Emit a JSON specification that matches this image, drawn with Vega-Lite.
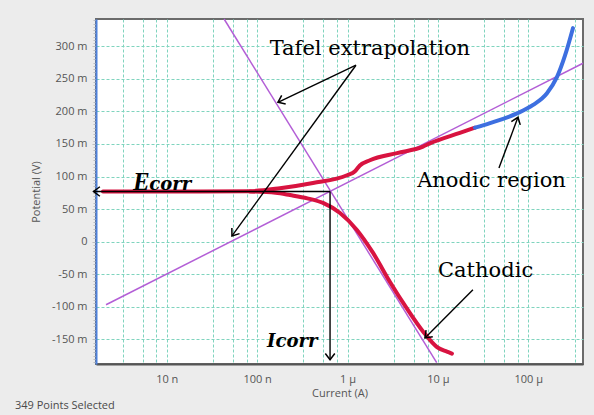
{
  "$schema": "https://vega.github.io/schema/vega-lite/v6.json",
  "width": 487,
  "height": 345,
  "autosize": {"type": "none"},
  "padding": {"left": 96, "top": 19, "right": 11, "bottom": 51},
  "background": "#ececec",
  "config": {
    "view": {"fill": "white", "stroke": "#6b6b6b", "strokeWidth": 2},
    "font": "Open Sans"
  },
  "title": {
    "text": "349 Points Selected",
    "orient": "bottom",
    "anchor": "start",
    "frame": "group",
    "dx": -81,
    "offset": 2,
    "font": "Open Sans",
    "fontSize": 11,
    "fontWeight": "normal",
    "color": "#4a4a4a"
  },
  "datasets": {
    "curves": [
      {"I": 1.97e-9, "V": 77, "branch": "anodic"},
      {"I": 6.5e-9, "V": 77, "branch": "anodic"},
      {"I": 2.33e-8, "V": 77, "branch": "anodic"},
      {"I": 8.3e-8, "V": 77.5, "branch": "anodic"},
      {"I": 1.79e-7, "V": 82, "branch": "anodic"},
      {"I": 4.15e-7, "V": 90, "branch": "anodic"},
      {"I": 9.9e-7, "V": 102, "branch": "anodic"},
      {"I": 1.21e-6, "V": 108, "branch": "anodic"},
      {"I": 1.37e-6, "V": 117, "branch": "anodic"},
      {"I": 1.77e-6, "V": 125, "branch": "anodic"},
      {"I": 3.53e-6, "V": 136, "branch": "anodic"},
      {"I": 6.84e-6, "V": 146, "branch": "anodic"},
      {"I": 8.17e-6, "V": 151, "branch": "anodic"},
      {"I": 1.75e-5, "V": 167, "branch": "anodic"},
      {"I": 2.57e-5, "V": 175, "branch": "anodic"},
      {"I": 2.57e-5, "V": 175, "branch": "transpassive"},
      {"I": 3.77e-5, "V": 182, "branch": "transpassive"},
      {"I": 7.5e-5, "V": 197, "branch": "transpassive"},
      {"I": 1.13e-4, "V": 210, "branch": "transpassive"},
      {"I": 1.61e-4, "V": 228, "branch": "transpassive"},
      {"I": 2.08e-4, "V": 253, "branch": "transpassive"},
      {"I": 2.55e-4, "V": 286, "branch": "transpassive"},
      {"I": 3.12e-4, "V": 328, "branch": "transpassive"},
      {"I": 8.3e-8, "V": 77, "branch": "cathodic"},
      {"I": 1.6e-7, "V": 75, "branch": "cathodic"},
      {"I": 2.31e-7, "V": 71.5, "branch": "cathodic"},
      {"I": 3.6e-7, "V": 66.5, "branch": "cathodic"},
      {"I": 5.36e-7, "V": 59.4, "branch": "cathodic"},
      {"I": 8.26e-7, "V": 44, "branch": "cathodic"},
      {"I": 1.27e-6, "V": 18, "branch": "cathodic"},
      {"I": 1.91e-6, "V": -17, "branch": "cathodic"},
      {"I": 2.95e-6, "V": -62, "branch": "cathodic"},
      {"I": 4.55e-6, "V": -103, "branch": "cathodic"},
      {"I": 6.84e-6, "V": -138, "branch": "cathodic"},
      {"I": 9.77e-6, "V": -162, "branch": "cathodic"},
      {"I": 1.26e-5, "V": -169, "branch": "cathodic"},
      {"I": 1.43e-5, "V": -172, "branch": "cathodic"}
    ],
    "tafel": [
      {"I": 2.13e-9, "V": -97, "line": "anodic"},
      {"I": 4.03e-4, "V": 274, "line": "anodic"},
      {"I": 4.31e-8, "V": 342, "line": "cathodic"},
      {"I": 9.7e-6, "V": -186, "line": "cathodic"}
    ],
    "arrows": [
      {"arrow": "ecorr", "I": 6.41e-7, "V": 77, "I2": 1.55e-9, "V2": 77},
      {"arrow": "icorr", "I": 6.41e-7, "V": 77, "I2": 6.41e-7, "V2": -181.5},
      {"arrow": "tafel1", "I": 1.24e-6, "V": 271, "I2": 1.7e-7, "V2": 214},
      {"arrow": "tafel2", "I": 1.24e-6, "V": 271, "I2": 5.27e-8, "V2": 8.7},
      {"arrow": "anodic", "I": 4.74e-5, "V": 113, "I2": 7.69e-5, "V2": 191},
      {"arrow": "cathodic", "I": 2.44e-5, "V": -74, "I2": 7.19e-6, "V2": -148}
    ],
    "labels": [
      {"label": "Tafel extrapolation", "I": 1.77e-6, "V": 287},
      {"label": "Anodic region", "I": 3.92e-5, "V": 84},
      {"label": "Cathodic", "I": 3.37e-5, "V": -54}
    ],
    "italic": [
      {"label": "Icorr", "I": 1.29e-7, "V": -161.5, "part": "small"},
      {"label": "corr", "I": 6.4e-9, "V": 80, "part": "small"},
      {"label": "E", "I": 4.24e-9, "V": 80, "part": "big"}
    ]
  },
  "resolve": {"axis": {"x": "independent", "y": "independent"}},
  "layer": [
    {
      "data": {"name": "tafel"},
      "mark": {"type": "line", "color": "#b35ed6", "strokeWidth": 1.5},
      "encoding": {
        "x": {
          "field": "I", "type": "quantitative",
          "scale": {"type": "log", "domain": [1.65e-9, 4.03e-4], "nice": false},
          "axis": {
            "orient": "bottom", "title": null, "labels": false, "ticks": false, "domain": false,
            "grid": true, "gridColor": "#7fd4be", "gridDash": [3, 2], "gridWidth": 1,
            "values": [3.25e-9, 5.4e-9, 7.7e-9, 1e-8, 3.25e-8, 5.4e-8, 7.7e-8, 1e-7, 3.25e-7, 5.4e-7, 7.7e-7, 1e-6, 3.25e-6, 5.4e-6, 7.7e-6, 1e-5, 3.25e-5, 5.4e-5, 7.7e-5, 1e-4, 3.25e-4]
          }
        },
        "y": {
          "field": "V", "type": "quantitative",
          "scale": {"domain": [-188, 342], "nice": false, "zero": false},
          "axis": {
            "orient": "left", "title": null, "labels": false, "grid": false, "domain": false,
            "ticks": true, "tickSize": 3, "tickColor": "#bdbdbd",
            "values": [-185, -180, -175, -170, -165, -160, -155, -145, -140, -135, -130, -125, -120, -115, -110, -105, -95, -90, -85, -80, -75, -70, -65, -60, -55, -45, -40, -35, -30, -25, -20, -15, -10, -5, 5, 10, 15, 20, 25, 30, 35, 40, 45, 55, 60, 65, 70, 75, 80, 85, 90, 95, 105, 110, 115, 120, 125, 130, 135, 140, 145, 155, 160, 165, 170, 175, 180, 185, 190, 195, 205, 210, 215, 220, 225, 230, 235, 240, 245, 255, 260, 265, 270, 275, 280, 285, 290, 295, 305, 310, 315, 320, 325, 330, 335, 340]
          }
        },
        "detail": {"field": "line", "type": "nominal"}
      }
    },
    {
      "data": {"name": "curves"},
      "mark": {"type": "line", "strokeWidth": 4, "strokeCap": "round", "strokeJoin": "round", "interpolate": "monotone"},
      "encoding": {
        "x": {
          "field": "I", "type": "quantitative",
          "axis": {
            "orient": "bottom", "title": "Current (A)", "titleFont": "Open Sans", "titleFontSize": 11,
            "titleFontWeight": "normal", "titleColor": "#555", "titlePadding": 3,
            "values": [1e-8, 1e-7, 1e-6, 1e-5, 1e-4],
            "labelExpr": "datum.value < 5e-8 ? '10 n' : datum.value < 5e-7 ? '100 n' : datum.value < 5e-6 ? '1 µ' : datum.value < 5e-5 ? '10 µ' : '100 µ'",
            "labelFont": "Open Sans", "labelFontSize": 11, "labelColor": "#555", "labelPadding": 9,
            "ticks": false, "grid": false, "domain": true, "domainColor": "#555", "domainWidth": 2
          }
        },
        "y": {
          "field": "V", "type": "quantitative",
          "axis": {
            "orient": "left", "title": "Potential (V)", "titleFont": "Open Sans", "titleFontSize": 11,
            "titleFontWeight": "normal", "titleColor": "#555", "titlePadding": 10,
            "values": [-150, -100, -50, 0, 50, 100, 150, 200, 250, 300],
            "labelExpr": "datum.value == 0 ? '0' : datum.value + ' m'",
            "labelFont": "Open Sans", "labelFontSize": 11, "labelColor": "#555", "labelPadding": 5,
            "ticks": true, "tickSize": 4, "tickColor": "#bdbdbd",
            "grid": true, "gridColor": "#7fd4be", "gridDash": [3, 2], "gridWidth": 1,
            "domain": true, "domainColor": "#4f82dc", "domainWidth": 2
          }
        },
        "color": {
          "field": "branch", "type": "nominal",
          "scale": {"domain": ["anodic", "cathodic", "transpassive"], "range": ["#d81340", "#d81340", "#3d6fe0"]},
          "legend": null
        }
      }
    },
    {
      "data": {"name": "arrows"},
      "mark": {"type": "rule", "color": "black", "strokeWidth": 1.4},
      "encoding": {
        "x": {"field": "I", "type": "quantitative", "axis": null},
        "y": {"field": "V", "type": "quantitative", "axis": null},
        "x2": {"field": "I2"},
        "y2": {"field": "V2"}
      }
    },
    {
      "data": {"name": "arrows"},
      "transform": [{"filter": "datum.arrow == 'ecorr'"}],
      "mark": {"type": "point", "shape": "M-1,-0.75L0,0L-1,0.75", "angle": 180, "filled": false, "color": "black", "strokeWidth": 1.5, "size": 160, "opacity": 1},
      "encoding": {
        "x": {"field": "I2", "type": "quantitative", "axis": null},
        "y": {"field": "V2", "type": "quantitative", "axis": null}
      }
    },
    {
      "data": {"name": "arrows"},
      "transform": [{"filter": "datum.arrow == 'icorr'"}],
      "mark": {"type": "point", "shape": "M-1,-0.75L0,0L-1,0.75", "angle": 90, "filled": false, "color": "black", "strokeWidth": 1.5, "size": 160, "opacity": 1},
      "encoding": {
        "x": {"field": "I2", "type": "quantitative", "axis": null},
        "y": {"field": "V2", "type": "quantitative", "axis": null}
      }
    },
    {
      "data": {"name": "arrows"},
      "transform": [{"filter": "datum.arrow == 'tafel1'"}],
      "mark": {"type": "point", "shape": "M-1,-0.75L0,0L-1,0.75", "angle": 155, "filled": false, "color": "black", "strokeWidth": 1.5, "size": 160, "opacity": 1},
      "encoding": {
        "x": {"field": "I2", "type": "quantitative", "axis": null},
        "y": {"field": "V2", "type": "quantitative", "axis": null}
      }
    },
    {
      "data": {"name": "arrows"},
      "transform": [{"filter": "datum.arrow == 'tafel2'"}],
      "mark": {"type": "point", "shape": "M-1,-0.75L0,0L-1,0.75", "angle": 126, "filled": false, "color": "black", "strokeWidth": 1.5, "size": 160, "opacity": 1},
      "encoding": {
        "x": {"field": "I2", "type": "quantitative", "axis": null},
        "y": {"field": "V2", "type": "quantitative", "axis": null}
      }
    },
    {
      "data": {"name": "arrows"},
      "transform": [{"filter": "datum.arrow == 'anodic'"}],
      "mark": {"type": "point", "shape": "M-1,-0.75L0,0L-1,0.75", "angle": 290, "filled": false, "color": "black", "strokeWidth": 1.5, "size": 160, "opacity": 1},
      "encoding": {
        "x": {"field": "I2", "type": "quantitative", "axis": null},
        "y": {"field": "V2", "type": "quantitative", "axis": null}
      }
    },
    {
      "data": {"name": "arrows"},
      "transform": [{"filter": "datum.arrow == 'cathodic'"}],
      "mark": {"type": "point", "shape": "M-1,-0.75L0,0L-1,0.75", "angle": 135, "filled": false, "color": "black", "strokeWidth": 1.5, "size": 160, "opacity": 1},
      "encoding": {
        "x": {"field": "I2", "type": "quantitative", "axis": null},
        "y": {"field": "V2", "type": "quantitative", "axis": null}
      }
    },
    {
      "data": {"name": "labels"},
      "mark": {"type": "text", "font": "DejaVu Serif", "fontSize": 21, "align": "center", "baseline": "alphabetic", "color": "black"},
      "encoding": {
        "x": {"field": "I", "type": "quantitative", "axis": null},
        "y": {"field": "V", "type": "quantitative", "axis": null},
        "text": {"field": "label"}
      }
    },
    {
      "data": {"name": "italic"},
      "transform": [{"filter": "datum.part == 'small'"}],
      "mark": {"type": "text", "font": "DejaVu Serif", "fontSize": 18, "fontStyle": "italic", "fontWeight": "bold", "align": "left", "baseline": "alphabetic", "color": "black"},
      "encoding": {
        "x": {"field": "I", "type": "quantitative", "axis": null},
        "y": {"field": "V", "type": "quantitative", "axis": null},
        "text": {"field": "label"}
      }
    },
    {
      "data": {"name": "italic"},
      "transform": [{"filter": "datum.part == 'big'"}],
      "mark": {"type": "text", "font": "Liberation Serif", "fontSize": 25, "fontStyle": "italic", "fontWeight": "bold", "align": "left", "baseline": "alphabetic", "color": "black"},
      "encoding": {
        "x": {"field": "I", "type": "quantitative", "axis": null},
        "y": {"field": "V", "type": "quantitative", "axis": null},
        "text": {"field": "label"}
      }
    }
  ]
}
